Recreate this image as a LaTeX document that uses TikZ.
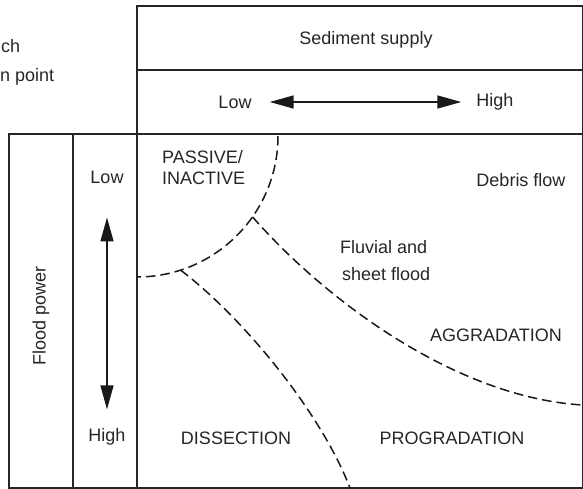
\documentclass[tikz,border=0pt]{standalone}
\usepackage{fontspec}
\setmainfont{Liberation Sans}
\usetikzlibrary{positioning}
\usetikzlibrary{calc}
\usetikzlibrary{arrows.meta}

\begin{document}
\begin{tikzpicture}[
            x=1pt, y=-1pt,
            label/.style={inner sep=0pt, font=\fontsize{18}{21}\selectfont, text=black!85},
            frame/.style={line width=1.8pt, draw=black!85},
            boundary/.style={line width=1.5pt, dash pattern=on 9.5pt off 5pt, draw=black!90},
            bigarrow/.style={line width=1.5pt, draw=black!90, fill=black!90},
            ]
            \useasboundingbox (0,0) rectangle (583,488);

            % table frame
            \draw[frame] (137,488) -- (137,6) -- (583,6) -- (583,488) -- (9,488) -- (9,134) -- (583,134);
            \draw[frame] (137,70) -- (583,70);
            \draw[frame] (73,134) -- (73,488);

            % cut-off text at the left
            \node[label, anchor=base west] (cutone) at (1,52) {ch};
            \node[label, anchor=base west] (cuttwo) at (0,81) {n point};

            % sediment supply axis
            \node[label] (supply) at (366,40) {Sediment supply};
            \node[label] (slow) at (235,102) {Low};
            \node[label] (shigh) at (495,102) {High};
            \draw[bigarrow, {Triangle[length=24pt,width=13pt]}-{Triangle[length=24pt,width=13pt]}, shorten <=18pt, shorten >=15pt] (slow) -- (shigh);

            % flood power axis
            \node[label, rotate=90] (power) at (41,316) {Flood power};
            \node[label] (plow) at (107,177) {Low};
            \node[label] (phigh) at (107,437) {High};
            \draw[bigarrow, {Triangle[length=24pt,width=13pt]}-{Triangle[length=24pt,width=13pt]}, shorten <=34pt, shorten >=19pt] (plow) -- (phigh);

            % regions
            \node[label, align=left, anchor=north west] (passive) at (162,150) {PASSIVE/\\INACTIVE};
            \node[label] (debris) at (521,180) {Debris flow};
            \node[label, anchor=west] (fluvial) at (340,247) {Fluvial and};
            \node[label, anchor=west] (sheet) at (342,274) {sheet flood};
            \node[label] (aggr) at (496,335) {AGGRADATION};
            \node[label] (dissect) at (236,438) {DISSECTION};
            \node[label] (progr) at (452,438) {PROGRADATION};

            % boundaries
            \coordinate (arccentre) at (137,136);
            \coordinate (ja) at ($(arccentre)+(35:141)$);
            \coordinate (jb) at ($(arccentre)+(72:141)$);
            \draw[boundary] ($(arccentre)+(0:141)$) arc[start angle=0, end angle=90, radius=141];
            \draw[boundary] (ja) .. controls (330,305) and (460,398) .. (583,405);
            \draw[boundary] (jb) .. controls (240,315) and (320,410) .. (350,488);
        \end{tikzpicture}
\end{document}
